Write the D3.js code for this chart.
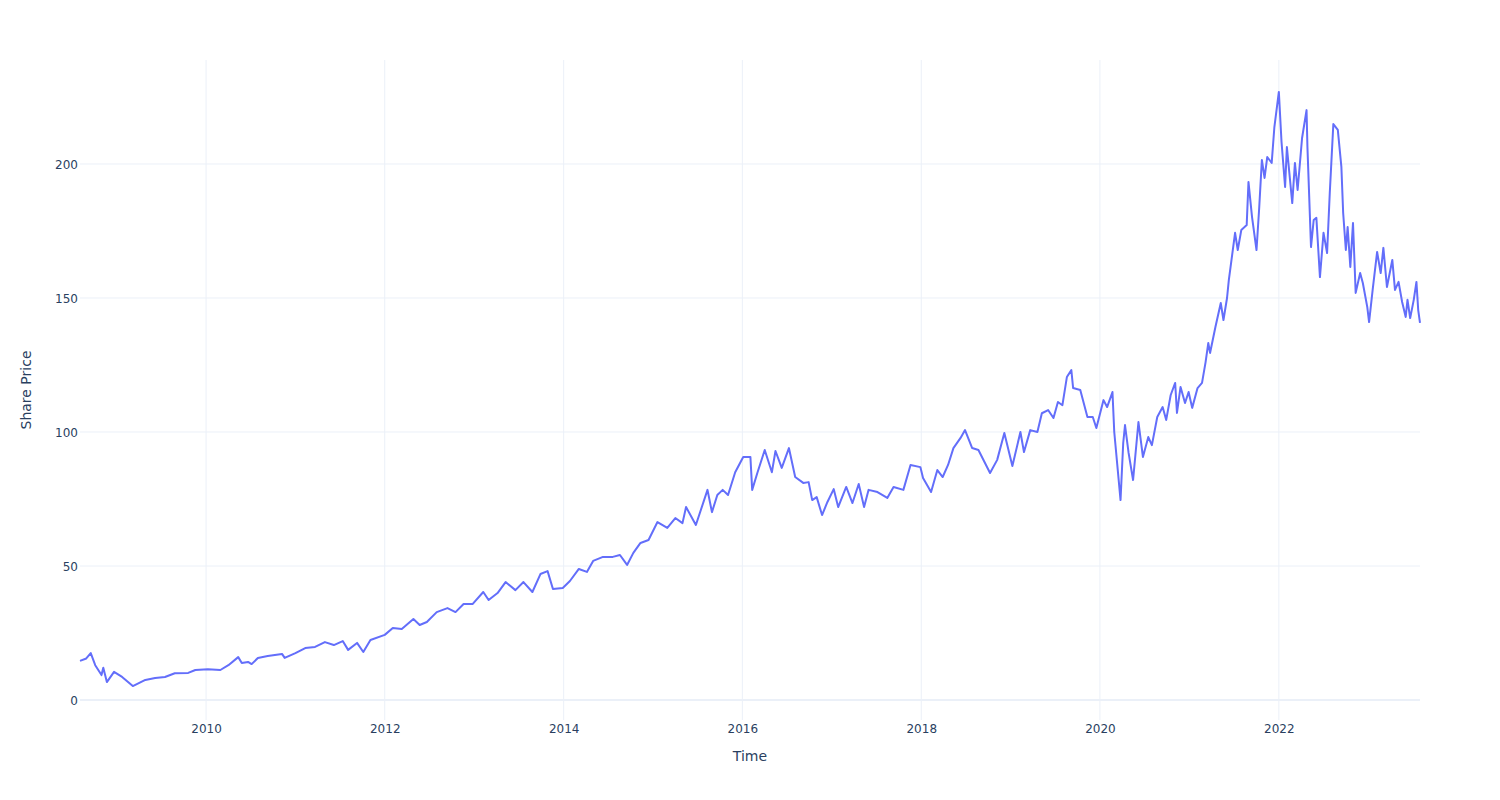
<!DOCTYPE html>
<html>
<head>
<meta charset="utf-8">
<script src="https://cdn.jsdelivr.net/npm/d3@7"></script>
<style>
  body { margin: 0; background: #fff; }
  svg { display: block; font-family: "DejaVu Sans", Verdana, sans-serif; }
</style>
</head>
<body>
<svg id="chart" width="1500" height="800"></svg>
<script>
// Time as decimal year
const times = [
  2008.59, 2008.66, 2008.71, 2008.76, 2008.83, 2008.85, 2008.89, 2008.97, 2009.06, 2009.18,
  2009.32, 2009.43, 2009.54, 2009.65, 2009.80, 2009.88, 2010.02, 2010.16, 2010.25, 2010.36,
  2010.40, 2010.47, 2010.51, 2010.58, 2010.69, 2010.85, 2010.88, 2011.00, 2011.11, 2011.22,
  2011.33, 2011.43, 2011.53, 2011.59, 2011.69, 2011.76, 2011.84, 2012.00, 2012.09, 2012.19,
  2012.32, 2012.39, 2012.47, 2012.58, 2012.70, 2012.79, 2012.88, 2012.98, 2013.10, 2013.16,
  2013.26, 2013.35, 2013.46, 2013.55, 2013.65, 2013.74, 2013.82, 2013.88, 2013.99, 2014.07,
  2014.17, 2014.26, 2014.33, 2014.44, 2014.55, 2014.63, 2014.71, 2014.78, 2014.86, 2014.95,
  2015.05, 2015.16, 2015.25, 2015.33, 2015.37, 2015.48, 2015.61, 2015.66, 2015.72, 2015.78,
  2015.84, 2015.92, 2016.01, 2016.09, 2016.11, 2016.17, 2016.25, 2016.33, 2016.37, 2016.44,
  2016.52, 2016.59, 2016.68, 2016.74, 2016.78, 2016.83, 2016.89, 2016.95, 2017.02, 2017.07,
  2017.16, 2017.23, 2017.30, 2017.36, 2017.41, 2017.51, 2017.62, 2017.69, 2017.80, 2017.88,
  2017.99, 2018.02, 2018.11, 2018.18, 2018.24, 2018.30, 2018.36, 2018.44, 2018.49, 2018.57,
  2018.64, 2018.77, 2018.85, 2018.93, 2019.02, 2019.11, 2019.15, 2019.22, 2019.30, 2019.35,
  2019.42, 2019.48, 2019.53, 2019.58, 2019.63, 2019.68, 2019.70, 2019.78, 2019.86, 2019.92,
  2019.96, 2020.04, 2020.08, 2020.14, 2020.16, 2020.23, 2020.26, 2020.28, 2020.32, 2020.37,
  2020.43, 2020.48, 2020.54, 2020.58, 2020.64, 2020.70, 2020.74, 2020.79, 2020.84, 2020.86,
  2020.90, 2020.95, 2020.99, 2021.03, 2021.09, 2021.14, 2021.18, 2021.21, 2021.23, 2021.29,
  2021.35, 2021.38, 2021.42, 2021.44, 2021.47, 2021.51, 2021.54, 2021.58, 2021.64, 2021.66,
  2021.70, 2021.75, 2021.78, 2021.81, 2021.84, 2021.87, 2021.92, 2021.95, 2022.00, 2022.03,
  2022.07, 2022.09, 2022.15, 2022.18, 2022.21, 2022.26, 2022.31, 2022.32, 2022.36, 2022.39,
  2022.42, 2022.46, 2022.50, 2022.54, 2022.57, 2022.61, 2022.66, 2022.70, 2022.72, 2022.75,
  2022.77, 2022.80, 2022.83, 2022.86, 2022.91, 2022.94, 2022.99, 2023.01, 2023.05, 2023.10,
  2023.14, 2023.17, 2023.21, 2023.27, 2023.30, 2023.34, 2023.38, 2023.42, 2023.44, 2023.47,
  2023.51, 2023.54, 2023.56, 2023.58
];
const prices = [
  14.6, 15.5, 17.5, 13.0, 9.3, 12.0, 6.7, 10.5, 8.6, 5.2,
  7.5, 8.2, 8.6, 10.0, 10.1, 11.2, 11.5, 11.2, 13.0, 16.0,
  13.8, 14.2, 13.4, 15.7, 16.4, 17.2, 15.7, 17.5, 19.4, 19.8,
  21.6, 20.5, 22.0, 18.7, 21.3, 17.9, 22.4, 24.3, 26.9, 26.5,
  30.2, 28.0, 29.1, 32.8, 34.3, 32.8, 35.8, 35.8, 40.3, 37.3,
  39.9, 44.0, 41.0, 44.0, 40.3, 47.0, 48.1, 41.4, 41.8, 44.4,
  48.9, 47.8, 51.9, 53.4, 53.4, 54.1, 50.4, 54.9, 58.6, 59.7,
  66.4, 64.2, 67.9, 66.0, 72.0, 65.3, 78.4, 70.1, 76.5, 78.4,
  76.5, 85.0, 90.7, 90.7, 78.4, 85.0, 93.3, 85.0, 92.9, 86.6,
  94.0, 83.2, 81.0, 81.3, 74.6, 75.7, 69.0, 73.9, 78.7, 72.0,
  79.5, 73.5, 80.6, 72.0, 78.4, 77.6, 75.4, 79.5, 78.4, 87.7,
  86.9, 82.8, 77.6, 85.8, 83.2, 87.7, 94.0, 97.8, 100.7, 94.0,
  93.3, 84.7, 89.6, 99.6, 87.3, 100.0, 92.5, 100.7, 100.0, 107.0,
  108.2, 105.2, 111.2, 110.0, 120.5, 123.1, 116.4, 115.7, 105.6, 105.6,
  101.5, 111.9, 109.3, 114.9, 100.0, 74.6, 95.9, 102.6, 92.2, 82.1,
  103.7, 90.7, 98.1, 95.1, 105.6, 109.3, 104.5, 113.8, 118.3, 107.1,
  116.8, 110.8, 114.9, 109.0, 116.4, 118.3, 126.1, 133.2, 129.5, 139.2,
  148.1, 141.8, 150.0, 156.7, 164.2, 174.3, 167.9, 175.4, 177.2, 193.3,
  180.2, 167.9, 183.6, 201.5, 194.8, 202.6, 200.4, 213.8, 226.9, 208.2,
  191.4, 206.3, 185.4, 200.4, 190.3, 209.7, 220.1, 206.3, 169.0, 179.1,
  179.9, 157.8, 174.3, 166.8, 189.2, 214.9, 212.7, 198.9, 181.7, 167.9,
  176.5, 161.6, 178.0, 151.9, 159.3, 155.6, 146.6, 141.0, 153.0, 167.2,
  159.3, 168.7, 154.1, 164.2, 153.0, 156.0, 148.5, 142.9, 149.3, 142.5,
  149.3, 156.0, 145.5, 140.7
];
const yTicks = [0, 50, 100, 150, 200];
const xTickYears = [2010, 2012, 2014, 2016, 2018, 2020, 2022];
const xTitle = "Time";
const yTitle = "Share Price";

function toDate(y) {
  const yr = Math.floor(y);
  const start = new Date(yr, 0, 1).getTime();
  const end = new Date(yr + 1, 0, 1).getTime();
  return new Date(start + (y - yr) * (end - start));
}

const data = times.map((t, i) => ({ date: toDate(t), value: prices[i] }));

const margin = { left: 80, right: 80, top: 60, bottom: 80 };
const W = 1500, H = 800;
const svg = d3.select("#chart");
const FONT = '"DejaVu Sans", Verdana, sans-serif';

const x = d3.scaleTime()
  .domain(d3.extent(data, d => d.date))
  .range([margin.left, W - margin.right]);
const y = d3.scaleLinear()
  .domain([-7.46, 238.8])
  .range([H - margin.bottom, margin.top]);

const gridColor = "#EBF0F8";
const textColor = "#2a3f5f";

// vertical grid
svg.append("g")
  .selectAll("line")
  .data(xTickYears)
  .join("line")
  .attr("x1", d => x(new Date(d, 0, 1)))
  .attr("x2", d => x(new Date(d, 0, 1)))
  .attr("y1", margin.top)
  .attr("y2", H - margin.bottom)
  .attr("stroke", gridColor)
  .attr("stroke-width", 1);

// horizontal grid
svg.append("g")
  .selectAll("line")
  .data(yTicks)
  .join("line")
  .attr("x1", margin.left)
  .attr("x2", W - margin.right)
  .attr("y1", d => y(d))
  .attr("y2", d => y(d))
  .attr("stroke", gridColor)
  .attr("stroke-width", d => d === 0 ? 2 : 1);

// axes via d3 axis generators
const xAxis = d3.axisBottom(x)
  .tickValues(xTickYears.map(d => new Date(d, 0, 1)))
  .tickFormat(d3.timeFormat("%Y"))
  .tickSize(0).tickPadding(0);
const gx = svg.append("g")
  .attr("transform", `translate(0,${H - margin.bottom})`)
  .call(xAxis);
gx.select(".domain").remove();
gx.selectAll("text")
  .attr("y", 13)
  .attr("dy", "0")
  .attr("fill", textColor)
  .style("font-size", "12px")
  .style("font-family", FONT);

const yAxis = d3.axisLeft(y)
  .tickValues(yTicks)
  .tickSize(0).tickPadding(0);
const gy = svg.append("g")
  .attr("transform", `translate(${margin.left},0)`)
  .call(yAxis);
gy.select(".domain").remove();
gy.selectAll("text")
  .attr("x", -2)
  .attr("dy", "0.35em")
  .attr("fill", textColor)
  .style("font-size", "12px")
  .style("font-family", FONT);

// line
const line = d3.line()
  .x(d => x(d.date))
  .y(d => y(d.value));
svg.append("path")
  .datum(data)
  .attr("fill", "none")
  .attr("stroke", "#636efa")
  .attr("stroke-width", 2)
  .attr("stroke-linejoin", "round")
  .attr("d", line);

// titles
svg.append("text")
  .attr("x", (margin.left + W - margin.right) / 2)
  .attr("y", 761)
  .attr("text-anchor", "middle")
  .attr("fill", textColor)
  .style("font-size", "14px")
  .style("font-family", FONT)
  .text(xTitle);

svg.append("text")
  .attr("transform", `translate(31,${(margin.top + H - margin.bottom) / 2}) rotate(-90)`)
  .attr("text-anchor", "middle")
  .attr("fill", textColor)
  .style("font-size", "14px")
  .style("font-family", FONT)
  .text(yTitle);
</script>
</body>
</html>
